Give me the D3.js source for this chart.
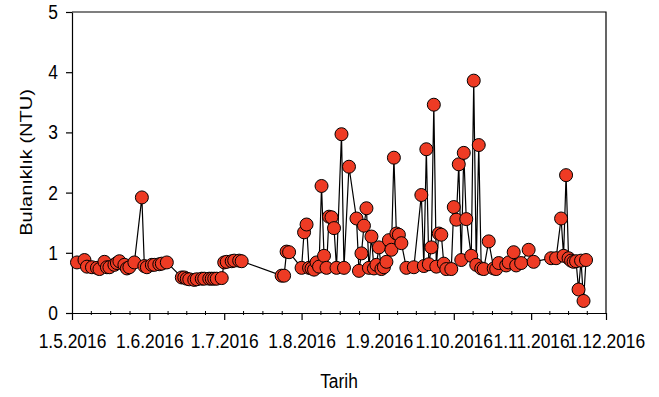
<!DOCTYPE html>
<html>
<head>
<meta charset="utf-8">
<script src="https://cdn.jsdelivr.net/npm/d3@7"></script>
<style>
  html, body { margin: 0; padding: 0; background: #fff; }
  #chart { width: 659px; height: 397px; }
  text { font-family: 'Liberation Sans', Arial, sans-serif; fill: #000; }
</style>
</head>
<body>
<div id="chart"></div>
<script>
// sampling dates (2016) and turbidity readings
const dates = [
  '2016-05-03', '2016-05-06', '2016-05-07', '2016-05-09', '2016-05-11', '2016-05-12',
  '2016-05-14', '2016-05-15', '2016-05-16', '2016-05-18', '2016-05-19', '2016-05-20',
  '2016-05-22', '2016-05-23', '2016-05-24', '2016-05-26', '2016-05-29', '2016-05-30',
  '2016-05-31', '2016-06-02', '2016-06-03', '2016-06-05', '2016-06-06', '2016-06-08',
  '2016-06-14', '2016-06-15', '2016-06-16', '2016-06-17', '2016-06-19', '2016-06-20',
  '2016-06-22', '2016-06-23', '2016-06-25', '2016-06-26', '2016-06-27', '2016-06-28',
  '2016-06-30', '2016-07-01', '2016-07-02', '2016-07-04', '2016-07-05', '2016-07-07',
  '2016-07-08', '2016-07-24', '2016-07-25', '2016-07-26', '2016-07-27',
  '2016-08-01', '2016-08-02', '2016-08-03', '2016-08-04', '2016-08-05', '2016-08-06',
  '2016-08-07', '2016-08-08', '2016-08-09', '2016-08-10', '2016-08-11', '2016-08-12',
  '2016-08-13', '2016-08-14', '2016-08-15', '2016-08-17', '2016-08-18', '2016-08-20',
  '2016-08-23', '2016-08-24', '2016-08-25', '2016-08-26', '2016-08-27', '2016-08-28',
  '2016-08-29', '2016-08-30', '2016-08-31', '2016-09-01', '2016-09-02', '2016-09-03',
  '2016-09-04', '2016-09-05', '2016-09-06', '2016-09-07', '2016-09-08', '2016-09-09',
  '2016-09-10', '2016-09-12', '2016-09-15', '2016-09-18', '2016-09-19', '2016-09-20',
  '2016-09-21', '2016-09-22', '2016-09-23', '2016-09-24', '2016-09-25', '2016-09-26',
  '2016-09-27', '2016-09-28', '2016-09-30', '2016-10-01', '2016-10-02', '2016-10-03',
  '2016-10-04', '2016-10-05', '2016-10-06', '2016-10-08', '2016-10-09', '2016-10-10',
  '2016-10-11', '2016-10-12', '2016-10-13', '2016-10-15', '2016-10-17', '2016-10-18',
  '2016-10-19', '2016-10-22', '2016-10-23', '2016-10-25', '2016-10-26', '2016-10-28',
  '2016-10-31', '2016-11-02', '2016-11-09', '2016-11-11', '2016-11-13', '2016-11-14',
  '2016-11-15', '2016-11-16', '2016-11-17', '2016-11-18', '2016-11-19', '2016-11-20',
  '2016-11-21', '2016-11-22', '2016-11-23'
];

const ntu = [
  0.84, 0.88, 0.77, 0.76, 0.75, 0.73,
  0.85, 0.76, 0.76, 0.80, 0.83, 0.86,
  0.80, 0.74, 0.76, 0.84, 1.92, 0.78,
  0.76, 0.80, 0.80, 0.81, 0.82, 0.84,
  0.59, 0.59, 0.57, 0.56, 0.55, 0.56,
  0.57, 0.57, 0.57, 0.57, 0.57, 0.57,
  0.58, 0.84, 0.85, 0.86, 0.87, 0.87,
  0.86, 0.62, 0.62, 1.02, 1.01,
  0.75, 1.34, 1.47, 0.75, 0.74, 0.72,
  0.84, 0.77, 2.11, 0.95, 0.75, 1.60,
  1.59, 1.41, 0.75, 2.97, 0.75, 2.43,
  1.57, 0.70, 0.99, 1.45, 1.74, 0.75,
  1.27, 0.74, 0.80, 1.09, 0.73, 0.76,
  0.85, 1.21, 1.05, 2.58, 1.32, 1.30,
  1.16, 0.75, 0.76, 1.96, 0.78, 2.72,
  0.81, 1.09, 3.46, 0.77, 1.32, 1.30,
  0.82, 0.73, 0.73, 1.76, 1.55, 2.47,
  0.88, 2.66, 1.56, 0.95, 3.86, 0.80,
  2.79, 0.74, 0.73, 1.19, 0.74, 0.73,
  0.83, 0.79, 0.84, 1.01, 0.79, 0.83,
  1.05, 0.85, 0.91, 0.91, 1.57, 0.95,
  2.29, 0.91, 0.87, 0.85, 0.86, 0.39,
  0.87, 0.20, 0.88
];

const xDomain = ['2016-05-01', '2016-12-01'];
const yTicks = [0, 1, 2, 3, 4, 5];

const parseDate = d3.timeParse('%Y-%m-%d');
const data = dates.map((d, i) => ({ date: parseDate(d), value: ntu[i] }));

const totalWidth = 659;
const totalHeight = 397;
const margin = { top: 12, right: 53, bottom: 84, left: 72 };
const width = totalWidth - margin.left - margin.right;
const height = totalHeight - margin.top - margin.bottom;
const squeeze = 0.87; // the source text is a bit narrow

const svg = d3
  .select('#chart')
  .append('svg')
  .attr('width', totalWidth)
  .attr('height', totalHeight)
  .append('g')
  .attr('transform', 'translate(' + margin.left + ',' + margin.top + ')');

const x = d3
  .scaleTime()
  .domain(xDomain.map(parseDate))
  .range([0, width]);

const y = d3.scaleLinear().domain([0, 5]).range([height, 0]);

// frame: top and right lines
svg
  .append('path')
  .attr('d', 'M0,0H' + width + 'V' + height)
  .attr('fill', 'none')
  .attr('stroke', '#000')
  .attr('stroke-width', 1.2);

// x axis
const monthTicks = d3.timeMonth.range(x.domain()[0], d3.timeDay.offset(x.domain()[1], 1));
const xAxis = svg
  .append('g')
  .attr('transform', 'translate(0,' + height + ')')
  .call(
    d3
      .axisBottom(x)
      .tickValues(monthTicks)
      .tickFormat(d3.timeFormat('%-d.%-m.%Y'))
      .tickSize(7)
      .tickSizeOuter(0)
      .tickPadding(14)
  );

// minor ticks, three between each month
const minor = [];
for (let i = 0; i < monthTicks.length - 1; i++) {
  const a = x(monthTicks[i]);
  const b = x(monthTicks[i + 1]);
  for (let k = 1; k < 4; k++) minor.push(a + ((b - a) * k) / 4);
}
xAxis
  .selectAll('.minor')
  .data(minor)
  .enter()
  .append('line')
  .attr('class', 'minor')
  .attr('x1', d => d)
  .attr('x2', d => d)
  .attr('y1', -2)
  .attr('y2', 2)
  .attr('stroke', '#000');

// y axis
const yAxis = svg
  .append('g')
  .call(d3.axisLeft(y).tickValues(yTicks).tickFormat(d3.format('d')).tickSize(6).tickSizeOuter(0));

[xAxis, yAxis].forEach(g => {
  g.select('.domain').attr('stroke', '#000').attr('stroke-width', 1.2);
  g.selectAll('.tick line').attr('stroke', '#000').attr('stroke-width', 1.2);
  g.selectAll('.tick text').style('font-size', '20px').style('font-family', null);
});

xAxis
  .selectAll('.tick text')
  .attr('transform', 'scale(' + squeeze + ',1)');

yAxis
  .selectAll('.tick text')
  .attr('x', 0)
  .attr('transform', 'translate(-14,0) scale(' + squeeze + ',1)');

// axis titles
svg
  .append('text')
  .text('Tarih')
  .attr('text-anchor', 'middle')
  .attr('transform', 'translate(' + width / 2 + ',' + (height + 75) + ') scale(' + squeeze + ',1)')
  .style('font-size', '20px');

svg
  .append('text')
  .text('Bulanıklık (NTU)')
  .attr('text-anchor', 'middle')
  .attr('transform', 'translate(-40,' + height / 2 + ') scale(' + squeeze + ',1) rotate(-90)')
  .style('font-size', '20px');

// series line
const line = d3
  .line()
  .x(d => x(d.date))
  .y(d => y(d.value));

svg
  .append('path')
  .datum(data)
  .attr('d', line)
  .attr('fill', 'none')
  .attr('stroke', '#000')
  .attr('stroke-width', 1.2);

// markers
svg
  .selectAll('.dot')
  .data(data)
  .enter()
  .append('circle')
  .attr('class', 'dot')
  .attr('cx', d => x(d.date))
  .attr('cy', d => y(d.value))
  .attr('r', 6.5)
  .attr('fill', '#ee3b24')
  .attr('stroke', '#000')
  .attr('stroke-width', 1);
</script>
</body>
</html>
